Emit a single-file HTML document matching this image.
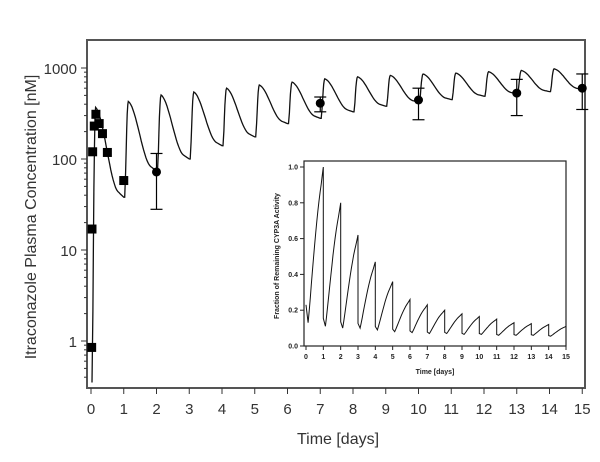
<!DOCTYPE html>
<html><head><meta charset="utf-8"><style>
html,body{margin:0;padding:0;background:#fff;}
svg{display:block;font-family:"Liberation Sans",Arial,sans-serif;}
</style></head><body>
<svg id="chart" width="600" height="462" viewBox="0 0 600 462" xmlns="http://www.w3.org/2000/svg">
<rect x="0" y="0" width="600" height="462" fill="#fff"/>
<g id="main"></g>
<g id="inset"></g>
</svg>
<script>
// Main chart data
const peakDays = [0,1,2,3,4,5,6,7,8,9,10,11,12,13,14];
const peakConc = [370,430,505,545,600,650,700,760,800,830,860,880,910,940,980];
const troughConc = [38,74,100,140,175,245,280,330,380,420,450,490,520,550,580];
const sqTimes = [0.02,0.03,0.05,0.1,0.15,0.25,0.35,0.5,1.0];
const sqConc = [0.85,17,120,230,310,245,190,118,58];
const circTimes = [2,7,10,13,15];
const circConc = [72,410,445,530,600];
const circLow = [28,330,270,300,350];
const circHigh = [115,480,600,750,860];
const xTicks = [0,1,2,3,4,5,6,7,8,9,10,11,12,13,14,15];
const yTickLabels = [1,10,100,1000];
// Inset data
const insetPeak = [1.0,0.8,0.62,0.47,0.36,0.26,0.23,0.2,0.18,0.165,0.15,0.13,0.125,0.12,0.11];
const insetTrough = [0.13,0.11,0.10,0.10,0.09,0.08,0.075,0.07,0.07,0.065,0.065,0.06,0.06,0.06,0.055];
const insetStart = 0.23;
const insetXTicks = [0,1,2,3,4,5,6,7,8,9,10,11,12,13,14,15];
const insetYTicks = [0.0,0.2,0.4,0.6,0.8,1.0];

const NS="http://www.w3.org/2000/svg";
function mk(parent,tag,attrs){const e=document.createElementNS(NS,tag);for(const k in attrs)e.setAttribute(k,attrs[k]);parent.appendChild(e);return e;}

// main axes
const X0=91,XS=32.75;
const BOT=388;
const x=t=>X0+t*XS;
const y=v=>68+(3-Math.log10(v))*91;
const main=document.getElementById('main');
const frame=mk(main,'rect',{x:87,y:40,width:498,height:BOT-40,fill:'none',stroke:'#555','stroke-width':2});



for(let d=-1;d<=3;d++){for(let m=1;m<10;m++){const v=m*Math.pow(10,d);const py=y(v);if(py<41||py>BOT-1)continue;
 const tk=mk(main,'line',{x1:87,x2:m===1?81:84,y1:py,y2:py,stroke:'#333','stroke-width':1});
 }}
yTickLabels.forEach(v=>{const t=mk(main,'text',{x:77,y:y(v)+6,'text-anchor':'end','font-size':15,fill:'#333'});t.textContent=v;
 });
xTicks.forEach(v=>{const tk=mk(main,'line',{x1:x(v),x2:x(v),y1:BOT,y2:BOT+6,stroke:'#333','stroke-width':1});
 
 const t=mk(main,'text',{x:x(v),y:414,'text-anchor':'middle','font-size':15,fill:'#333'});t.textContent=v;
 });
const xt=mk(main,'text',{x:338,y:444,'text-anchor':'middle','font-size':16,fill:'#333'});xt.textContent='Time [days]';

const yt=mk(main,'text',{x:0,y:0,'text-anchor':'middle','font-size':16,fill:'#333',transform:'translate(36,217) rotate(-90)'});yt.textContent='Itraconazole Plasma Concentration [nM]';


// main curve
let pts=[];
pts.push([x(0.03),y(0.35)]);
for(let k=0;k<peakDays.length;k++){
 const t0=peakDays[k], start=k===0?0.35:troughConc[k-1], pk=peakConc[k], tr=troughConc[k];
 pts.push([x(t0+0.03),y(start)]);
 for(let i=1;i<=6;i++){const f=i/6;const tt=t0+0.04+0.1*f;const v=Math.exp(Math.log(start)+(Math.log(pk)-Math.log(start))*Math.sin(f*Math.PI/2));pts.push([x(tt),y(v)]);}
 for(let i=1;i<=24;i++){const f=i/24;const tt=t0+0.14+0.86*f;
  const c=(1-Math.cos(Math.PI*Math.min(1,f*1.25)))/2;const g=0.7*c+0.3*f;
  const v=Math.exp(Math.log(pk)+(Math.log(tr)-Math.log(pk))*g);pts.push([x(tt),y(v)]);}
}
const curve=mk(main,'path',{d:'M'+pts.map(p=>p[0].toFixed(1)+','+p[1].toFixed(1)).join(' L'),fill:'none',stroke:'#111','stroke-width':1.3});


sqTimes.forEach((t,i)=>{const r=mk(main,'rect',{x:x(t)-4.5,y:y(sqConc[i])-4.5,width:9,height:9,fill:'#000'});
 });
circTimes.forEach((t,i)=>{const g=mk(main,'g',{});
 
 const cx=x(t),yl=y(circLow[i]),yh=y(circHigh[i]);
 mk(g,'line',{x1:cx,x2:cx,y1:yl,y2:yh,stroke:'#000','stroke-width':1.2});
 mk(g,'line',{x1:cx-6,x2:cx+6,y1:yl,y2:yl,stroke:'#000','stroke-width':1.2});
 mk(g,'line',{x1:cx-6,x2:cx+6,y1:yh,y2:yh,stroke:'#000','stroke-width':1.2});
 mk(g,'circle',{cx:cx,cy:y(circConc[i]),r:4.5,fill:'#000'});});

// inset
const inset=document.getElementById('inset');
const IX0=306,IXS=(566-306)/15;
const ix=t=>IX0+t*IXS;
const iy=v=>346-v*179;
const ib=mk(inset,'rect',{x:304,y:161,width:262,height:185,fill:'#fff',stroke:'#222','stroke-width':1.2});

insetYTicks.forEach(v=>{mk(inset,'line',{x1:300,x2:304,y1:iy(v),y2:iy(v),stroke:'#222'});
 const t=mk(inset,'text',{x:298,y:iy(v)+2.5,'text-anchor':'end','font-size':7,'font-weight':'bold',fill:'#222'});t.textContent=v.toFixed(1);
 });
insetXTicks.forEach(v=>{mk(inset,'line',{x1:ix(v),x2:ix(v),y1:346,y2:350,stroke:'#222'});
 const t=mk(inset,'text',{x:ix(v),y:359,'text-anchor':'middle','font-size':7,'font-weight':'bold',fill:'#222'});t.textContent=v;
 });
const ixt=mk(inset,'text',{x:435,y:374,'text-anchor':'middle','font-size':7,'font-weight':'bold',fill:'#222'});ixt.textContent='Time [days]';

const iyt=mk(inset,'text',{x:0,y:0,'text-anchor':'middle','font-size':7,'font-weight':'bold',fill:'#222',transform:'translate(279,256) rotate(-90)'});iyt.textContent='Fraction of Remaining CYP3A Activity';


let ip=[[ix(0),iy(insetStart)]];
for(let k=0;k<insetPeak.length;k++){
 const tr=insetTrough[k], pk=insetPeak[k], prev=k===0?insetStart:insetPeak[k-1];
 if(k>0) ip.push([ix(k),iy(tr+(prev-tr)*0.05)]);
 ip.push([ix(k+0.12),iy(tr)]);
 for(let i=1;i<=14;i++){const f=i/14;const g=f<0.85?Math.sin(f/0.85*Math.PI/2)*0.97:0.97+0.03*(f-0.85)/0.15;const sh=Math.pow(f,1.4);
  ip.push([ix(k+0.12+0.88*f),iy(tr+(pk-tr)*(0.5*sh+0.5*g))]);}
}
ip.push([ix(15),iy(insetPeak[14])]);
const ic=mk(inset,'path',{d:'M'+ip.map(p=>p[0].toFixed(1)+','+p[1].toFixed(1)).join(' L'),fill:'none',stroke:'#111','stroke-width':1});

</script>
</body></html>
